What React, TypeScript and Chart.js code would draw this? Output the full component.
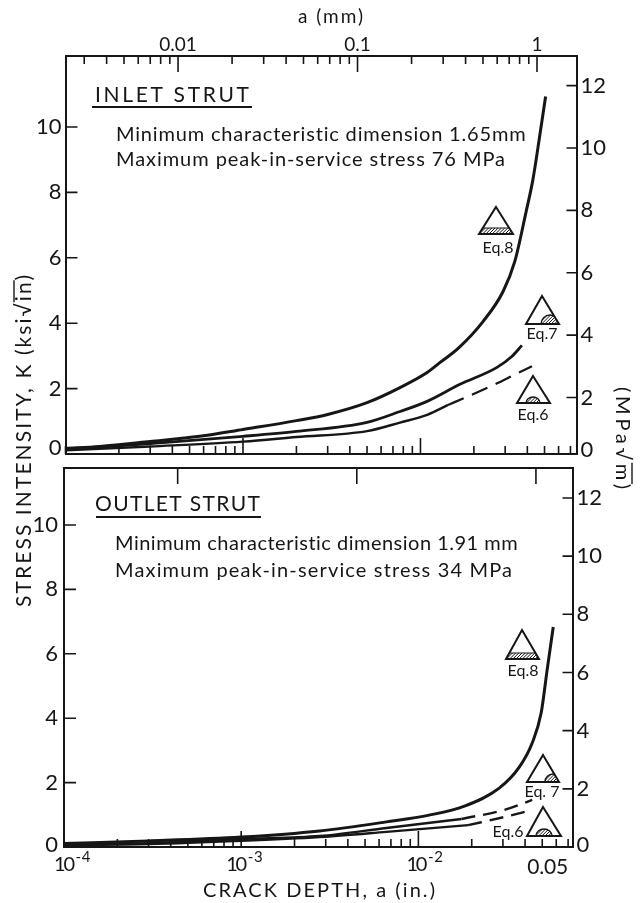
import React, { useEffect, useRef } from "react";
import { Chart, registerables } from "chart.js";

Chart.register(...registerables);

const FONT = "Lato, 'Noto Sans', sans-serif";
const INK = "#161616";

// Crack depth ticks (inches)
const IN_TICKS = [1e-4, 2e-4, 3e-4, 4e-4, 5e-4, 6e-4, 7e-4, 8e-4, 9e-4, 1e-3, 2e-3, 3e-3, 4e-3, 5e-3, 6e-3, 7e-3, 8e-3, 9e-3, 1e-2, 2e-2, 3e-2, 4e-2, 5e-2, 6e-2, 7e-2];
const IN_MAJOR = [1e-3, 1e-2];
const IN_POWER_VALUES = [1e-4, 1e-3, 1e-2];
const IN_POWER_EXPONENTS = ["-4", "-3", "-2"];
const IN_PLAIN_VALUE = 5e-2;
const IN_PLAIN_LABEL = "0.05";

// Crack depth ticks (millimetres)
const MM_TICKS = [0.003, 0.004, 0.005, 0.006, 0.007, 0.008, 0.009, 0.01, 0.02, 0.03, 0.04, 0.05, 0.06, 0.07, 0.08, 0.09, 0.1, 0.2, 0.3, 0.4, 0.5, 0.6, 0.7, 0.8, 0.9, 1];
const MM_MAJOR = [0.01, 0.1, 1];
const MM_LABELS: Record<string, string> = { "0.01": "0.01", "0.1": "0.1", "1": "1" };

// Stress-intensity ticks; the first entry of each list is where the "0" is lettered
const K_TICKS_TOP = [0.18, 2, 4, 6, 8, 10];
const MPA_TICKS_TOP = [0.32, 2, 4, 6, 8, 10, 12];
const K_TICKS_LOW = [0.06, 2, 4, 6, 8, 10];
const MPA_TICKS_LOW = [0.07, 2, 4, 6, 8, 10, 12];

// INLET STRUT: crack depth (in) and K (ksi sqrt(in))
const INLET_A_EQ8 = [1e-4, 1.56e-4, 3e-4, 5.7e-4, 1e-3, 2e-3, 3e-3, 5e-3, 7.67e-3, 1.09e-2, 1.29e-2, 1.63e-2, 2.25e-2, 2.92e-2, 3.4e-2, 3.93e-2, 4.3e-2, 4.71e-2, 5.07e-2];
const INLET_K_EQ8 = [0.17, 0.23, 0.38, 0.54, 0.75, 1.02, 1.21, 1.57, 2.03, 2.49, 2.8, 3.23, 4.05, 4.97, 5.89, 7.39, 8.39, 9.77, 10.93];
const INLET_A_EQ7 = [1e-4, 3e-4, 1e-3, 2e-3, 5e-3, 7.67e-3, 1.09e-2, 1.67e-2, 2.7e-2, 3.27e-2, 3.73e-2];
const INLET_K_EQ7 = [0.14, 0.32, 0.54, 0.69, 0.97, 1.3, 1.61, 2.13, 2.65, 2.98, 3.32];
const INLET_A_EQ6 = [1e-4, 3e-4, 1e-3, 2e-3, 5e-3, 7.67e-3, 1.09e-2, 1.43e-2];
const INLET_K_EQ6 = [0.11, 0.23, 0.38, 0.52, 0.7, 0.96, 1.2, 1.5];
const INLET_A_EQ6_DASH = [1.43e-2, 1.85e-2, 2.7e-2, 3.4e-2, 4.25e-2];
const INLET_K_EQ6_DASH = [1.5, 1.76, 2.16, 2.43, 2.68];

// OUTLET STRUT
const OUTLET_A_EQ8 = [1e-4, 3e-4, 1e-3, 2.77e-3, 6.6e-3, 1.15e-2, 1.82e-2, 2.86e-2, 3.71e-2, 4.39e-2, 4.93e-2, 5.33e-2, 5.77e-2];
const OUTLET_K_EQ8 = [0.11, 0.19, 0.31, 0.5, 0.78, 0.99, 1.27, 1.83, 2.48, 3.23, 4.16, 5.5, 6.83];
const OUTLET_A_EQ7 = [1e-4, 3e-4, 1e-3, 2.77e-3, 6.6e-3, 1.75e-2];
const OUTLET_K_EQ7 = [0.09, 0.12, 0.25, 0.34, 0.59, 0.87];
const OUTLET_A_EQ7_DASH = [1.75e-2, 3.05e-2, 4.39e-2];
const OUTLET_K_EQ7_DASH = [0.87, 1.15, 1.46];
const OUTLET_A_EQ6 = [1e-4, 3e-4, 1e-3, 2.77e-3, 6.6e-3, 1.91e-2];
const OUTLET_K_EQ6 = [0.06, 0.09, 0.19, 0.31, 0.47, 0.68];
const OUTLET_A_EQ6_DASH = [1.91e-2, 3.05e-2, 4.39e-2];
const OUTLET_K_EQ6_DASH = [0.68, 0.93, 1.15];

const zip = (a: number[], k: number[]) => a.map((x, i) => ({ x, y: k[i] }));

function line(label: string, a: number[], k: number[], width: number, dash: number[] = []) {
  return {
    label,
    data: zip(a, k),
    xAxisID: "x",
    yAxisID: "y",
    borderColor: INK,
    borderWidth: width,
    borderDash: dash,
    pointRadius: 0,
    fill: false,
    cubicInterpolationMode: "monotone" as const,
    clip: false,
  };
}

function fitText(ctx: any, text: string, x: number, y: number, width: number, font: string) {
  ctx.font = font;
  ctx.letterSpacing = "0px";
  ctx.textAlign = "left";
  ctx.textBaseline = "middle";
  const w = ctx.measureText(text).width;
  ctx.letterSpacing = (width - w) / Math.max(1, text.length - 1) + "px";
  ctx.fillText(text, x, y);
}

function hatch(ctx: any, x0: number, y0: number, x1: number, y1: number) {
  ctx.lineWidth = 1;
  ctx.beginPath();
  for (let x = x0 - (y1 - y0); x < x1; x += 3.2) {
    ctx.moveTo(x, y1);
    ctx.lineTo(x + (y1 - y0), y0);
  }
  ctx.stroke();
}

function triangle(ctx: any, apexX: number, apexY: number, x0: number, x1: number, baseY: number) {
  ctx.beginPath();
  ctx.moveTo(apexX, apexY);
  ctx.lineTo(x1, baseY);
  ctx.lineTo(x0, baseY);
  ctx.closePath();
}

type Icon = { kind: string; ax: number; ay: number; x0: number; x1: number; by: number; text: string; tx: number; ty: number; cx?: number; rx?: number; ry?: number };

function drawIcon(ctx: any, ic: Icon) {
  ctx.save();
  ctx.strokeStyle = INK;
  ctx.lineWidth = 2;
  ctx.lineJoin = "miter";
  triangle(ctx, ic.ax, ic.ay, ic.x0, ic.x1, ic.by);
  ctx.stroke();
  ctx.save();
  triangle(ctx, ic.ax, ic.ay, ic.x0, ic.x1, ic.by);
  ctx.clip();
  if (ic.kind === "band") {
    hatch(ctx, ic.x0, ic.by - 6, ic.x1, ic.by);
    ctx.lineWidth = 1.2;
    ctx.beginPath();
    ctx.moveTo(ic.x0, ic.by - 6);
    ctx.lineTo(ic.x1, ic.by - 6);
    ctx.stroke();
  } else {
    ctx.beginPath();
    ctx.ellipse(ic.cx, ic.by, ic.rx, ic.ry, 0, Math.PI, 2 * Math.PI);
    ctx.closePath();
    ctx.lineWidth = 1.4;
    ctx.stroke();
    ctx.clip();
    hatch(ctx, ic.cx! - ic.rx!, ic.by - ic.ry!, ic.cx! + ic.rx!, ic.by);
  }
  ctx.restore();
  ctx.fillStyle = INK;
  ctx.font = `16px ${FONT}`;
  ctx.letterSpacing = "0px";
  ctx.textAlign = "center";
  ctx.textBaseline = "middle";
  ctx.fillText(ic.text, ic.tx, ic.ty);
  ctx.restore();
}

function drawMarks(chart: any, id: string, minor: number, major: number, majors: number[]) {
  const scale = chart.scales[id];
  const area = chart.chartArea;
  const ctx = chart.ctx;
  ctx.save();
  ctx.strokeStyle = INK;
  ctx.lineWidth = 1.6;
  ctx.beginPath();
  for (const t of scale.ticks) {
    if (t.label === "0") continue;
    const p = scale.getPixelForValue(t.value);
    const len = majors.includes(t.value) ? major : minor;
    if (id === "x") { ctx.moveTo(p, area.bottom); ctx.lineTo(p, area.bottom - len); }
    if (id === "xTop") { ctx.moveTo(p, area.top); ctx.lineTo(p, area.top + len); }
    if (id === "y") { ctx.moveTo(area.left, p); ctx.lineTo(area.left + len, p); }
    if (id === "yRight") { ctx.moveTo(area.right, p); ctx.lineTo(area.right - len, p); }
  }
  ctx.stroke();
  ctx.restore();
}

// The printed exponent labels: "10" with a raised exponent, set beside their ticks
function drawDepthLabels(chart: any) {
  const scale = chart.scales.x;
  const ctx = chart.ctx;
  const shifts = [-10, -15, -12];
  IN_POWER_VALUES.forEach((v, i) => {
    const p = scale.getPixelForValue(v);
    fitText(ctx, "10", p + shifts[i], 865, 21, `20px ${FONT}`);
    fitText(ctx, IN_POWER_EXPONENTS[i], p + shifts[i] + 21.5, 857, 15, `15px ${FONT}`);
  });
  fitText(ctx, IN_PLAIN_LABEL, scale.getPixelForValue(IN_PLAIN_VALUE) - 15, 867, 41, `21px ${FONT}`);
}

type Panel = {
  padding: { left: number; top: number; right: number; bottom: number };
  boxes: { left: number; right: number; top: number; bottom: number };
  xMin: number; xMax: number; mmMin: number; mmMax: number;
  kMax: number; kMin: number; mpaMin: number; mpaMax: number;
  kTicks: number[]; mpaTicks: number[];
  mmTicks: number[]; mmLabelled: boolean; inLabelled: boolean;
  yPadLeft: number;
  heading: string; headingBox: number[]; rule: number[];
  lines: { text: string; x: number; y: number; w: number }[];
  icons: Icon[];
  page: boolean;
};

const axisBase = (extra: any) => ({
  grid: { display: false, drawTicks: false },
  border: { display: true, color: INK, width: 2 },
  ...extra,
});

function makeConfig(panel: Panel, datasets: any[]) {
  const sized = (v: number) => (s: any) => {
    if (s.isHorizontal()) s.height = v; else s.width = v;
  };
  const tickFont = (size: number) => ({ family: FONT, size });
  const plugin = {
    id: "figureMarks",
    afterDraw(chart: any) {
      const ctx = chart.ctx;
      drawMarks(chart, "x", 8, 16, IN_MAJOR);
      drawMarks(chart, "xTop", panel.mmLabelled ? 8 : 0, 16, MM_MAJOR);
      drawMarks(chart, "y", 12, 12, []);
      drawMarks(chart, "yRight", 10, 10, []);
      ctx.save();
      ctx.fillStyle = INK;
      ctx.strokeStyle = INK;
      fitText(ctx, panel.heading, panel.headingBox[0], panel.headingBox[1], panel.headingBox[2], `21px ${FONT}`);
      ctx.lineWidth = 1.8;
      ctx.beginPath();
      ctx.moveTo(panel.rule[0], panel.rule[2]);
      ctx.lineTo(panel.rule[1], panel.rule[2]);
      ctx.stroke();
      for (const l of panel.lines) fitText(ctx, l.text, l.x, l.y, l.w, `20px ${FONT}`);
      if (panel.inLabelled) drawDepthLabels(chart);
      if (panel.page) {
        fitText(ctx, "a (mm)", 298, 17, 65, `19px ${FONT}`);
        fitText(ctx, "CRACK DEPTH, a (in.)", 203, 891, 232, `20px ${FONT}`);

        ctx.save();
        ctx.translate(24, 607);
        ctx.rotate(-Math.PI / 2);
        const left = "STRESS INTENSITY, K (ksi√in)";
        fitText(ctx, left, 0, 0, 332, `21px ${FONT}`);
        const lx = ctx.measureText("STRESS INTENSITY, K (ksi√").width;
        const lw = ctx.measureText("in").width;
        ctx.lineWidth = 1.4;
        ctx.beginPath();
        ctx.moveTo(lx - 1, -10);
        ctx.lineTo(lx + lw, -10);
        ctx.stroke();
        ctx.restore();

        ctx.save();
        ctx.translate(622, 387);
        ctx.rotate(Math.PI / 2);
        const right = "(MPa√m)";
        fitText(ctx, right, 0, 0, 102, `20px ${FONT}`);
        const rx = ctx.measureText("(MPa√").width;
        const rw = ctx.measureText("m").width;
        ctx.lineWidth = 1.4;
        ctx.beginPath();
        ctx.moveTo(rx - 1, -10);
        ctx.lineTo(rx + rw, -10);
        ctx.stroke();
        ctx.restore();
      }
      ctx.restore();
      for (const ic of panel.icons) drawIcon(ctx, ic);
    },
  };
  return {
    type: "line" as const,
    data: { datasets },
    plugins: [plugin],
    options: {
      responsive: false,
      animation: false as const,
      events: [],
      layout: { padding: panel.padding },
      plugins: { legend: { display: false }, title: { display: false }, tooltip: { enabled: false } },
      scales: {
        x: axisBase({
          type: "logarithmic", position: "bottom", min: panel.xMin, max: panel.xMax,
          afterBuildTicks: (s: any) => { s.ticks = IN_TICKS.map((value) => ({ value })); },
          afterFit: sized(panel.boxes.bottom),
          ticks: {
            autoSkip: false, maxRotation: 0, minRotation: 0, padding: 7, color: INK, font: tickFont(20),
            callback: () => "",
          },
        }),
        xTop: axisBase({
          type: "logarithmic", position: "top", min: panel.mmMin, max: panel.mmMax,
          afterBuildTicks: (s: any) => { s.ticks = panel.mmTicks.map((value) => ({ value })); },
          afterFit: sized(panel.boxes.top),
          ticks: {
            autoSkip: false, maxRotation: 0, minRotation: 0, padding: 0, color: INK, font: tickFont(19),
            callback: (v: number) => (panel.mmLabelled ? MM_LABELS[String(v)] ?? "" : ""),
          },
        }),
        y: axisBase({
          type: "linear", position: "left", min: panel.kMin, max: panel.kMax,
          afterBuildTicks: (s: any) => { s.ticks = panel.kTicks.map((value) => ({ value })); },
          afterFit: sized(panel.boxes.left),
          ticks: {
            autoSkip: false, padding: panel.yPadLeft, color: INK, font: tickFont(22),
            callback: (v: number) => (v < 1 ? "0" : String(v)),
          },
        }),
        yRight: axisBase({
          type: "linear", position: "right", min: panel.mpaMin, max: panel.mpaMax,
          afterBuildTicks: (s: any) => { s.ticks = panel.mpaTicks.map((value) => ({ value })); },
          afterFit: sized(panel.boxes.right),
          ticks: {
            autoSkip: false, padding: 4, color: INK, font: tickFont(22),
            callback: (v: number) => (v < 1 ? "0" : String(v)),
          },
        }),
      },
    },
  };
}

const INLET: Panel = {
  padding: { left: 0, top: 0, right: 0, bottom: 429 },
  boxes: { left: 65.5, right: 64.5, top: 56, bottom: 20 },
  xMin: 1e-4, xMax: 0.0757, mmMin: 0.00236, mmMax: 1.66,
  kMin: 0, kMax: 12.17, mpaMin: 0.19, mpaMax: 12.95,
  kTicks: K_TICKS_TOP, mpaTicks: MPA_TICKS_TOP,
  mmTicks: MM_TICKS, mmLabelled: true, inLabelled: false, yPadLeft: 4,
  heading: "INLET STRUT", headingBox: [95, 95, 154], rule: [92, 252, 107],
  lines: [
    { text: "Minimum characteristic dimension 1.65mm", x: 116, y: 135, w: 410 },
    { text: "Maximum peak-in-service stress 76 MPa", x: 116, y: 160, w: 389 },
  ],
  icons: [
    { kind: "band", ax: 496, ay: 207, x0: 479, x1: 513, by: 234, text: "Eq.8", tx: 498, ty: 248 },
    { kind: "arc", ax: 542, ay: 296, x0: 526, x1: 559, by: 324, cx: 550, rx: 9, ry: 9, text: "Eq.7", tx: 542, ty: 334 },
    { kind: "arc", ax: 533, ay: 376, x0: 517, x1: 550, by: 403, cx: 533, rx: 7, ry: 6, text: "Eq.6", tx: 533, ty: 415 },
  ],
  page: true,
};

const OUTLET: Panel = {
  padding: { left: 0, top: 448, right: 0, bottom: 0 },
  boxes: { left: 64, right: 68.5, top: 20, bottom: 56 },
  xMin: 1e-4, xMax: 0.0741, mmMin: 0.00232, mmMax: 1.6,
  kMin: 0, kMax: 11.77, mpaMin: 0, mpaMax: 13.03,
  kTicks: K_TICKS_LOW, mpaTicks: MPA_TICKS_LOW,
  mmTicks: MM_MAJOR, mmLabelled: false, inLabelled: true, yPadLeft: 6,
  heading: "OUTLET STRUT", headingBox: [95, 504, 165], rule: [96, 261, 517],
  lines: [
    { text: "Minimum characteristic dimension 1.91 mm", x: 115, y: 544, w: 403 },
    { text: "Maximum peak-in-service stress 34 MPa", x: 115, y: 571, w: 397 },
  ],
  icons: [
    { kind: "band", ax: 522, ay: 630, x0: 506, x1: 539, by: 659, text: "Eq.8", tx: 523, ty: 671 },
    { kind: "arc", ax: 543, ay: 755, x0: 527, x1: 559, by: 782, cx: 553, rx: 8, ry: 8, text: "Eq. 7", tx: 542, ty: 792 },
    { kind: "arc", ax: 543, ay: 807, x0: 527, x1: 561, by: 836, cx: 544, rx: 8, ry: 7, text: "Eq.6", tx: 508, ty: 832 },
  ],
  page: false,
};

const INLET_LINES = () => [
  line("Eq. 8", INLET_A_EQ8, INLET_K_EQ8, 3),
  line("Eq. 7", INLET_A_EQ7, INLET_K_EQ7, 2.8),
  line("Eq. 6", INLET_A_EQ6, INLET_K_EQ6, 2.4),
  line("Eq. 6 extrapolated", INLET_A_EQ6_DASH, INLET_K_EQ6_DASH, 2.2, [17, 9]),
];

const OUTLET_LINES = () => [
  line("Eq. 8", OUTLET_A_EQ8, OUTLET_K_EQ8, 3),
  line("Eq. 7", OUTLET_A_EQ7, OUTLET_K_EQ7, 2.4),
  line("Eq. 7 extrapolated", OUTLET_A_EQ7_DASH, OUTLET_K_EQ7_DASH, 2.4, [14, 8]),
  line("Eq. 6", OUTLET_A_EQ6, OUTLET_K_EQ6, 2.4),
  line("Eq. 6 extrapolated", OUTLET_A_EQ6_DASH, OUTLET_K_EQ6_DASH, 2.4, [14, 8]),
];

export default function App() {
  const topRef = useRef<HTMLCanvasElement>(null);
  const lowRef = useRef<HTMLCanvasElement>(null);
  useEffect(() => {
    const a = new Chart(topRef.current!, makeConfig(INLET, INLET_LINES()) as any);
    const b = new Chart(lowRef.current!, makeConfig(OUTLET, OUTLET_LINES()) as any);
    return () => {
      a.destroy();
      b.destroy();
    };
  }, []);
  const style: React.CSSProperties = { position: "absolute", left: 0, top: 0, display: "block" };
  return (
    <div style={{ position: "absolute", left: 0, top: 0, width: 641, height: 903, background: "#fff", overflow: "hidden" }}>
      <canvas ref={topRef} width={641} height={903} style={style} />
      <canvas ref={lowRef} width={641} height={903} style={style} />
    </div>
  );
}
